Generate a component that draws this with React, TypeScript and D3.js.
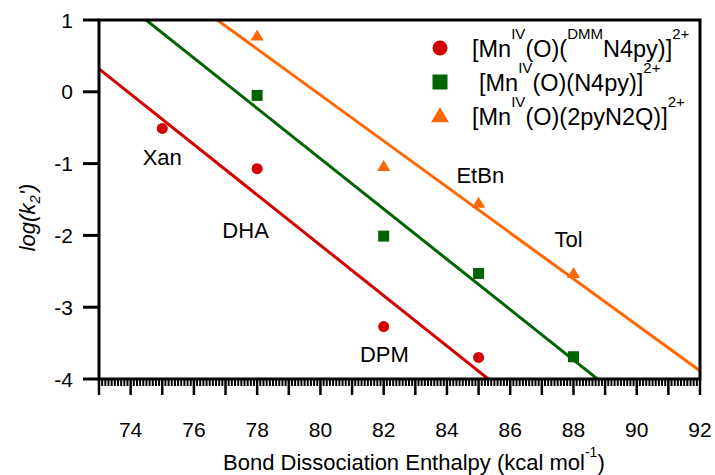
import React from "react";
import * as d3 from "d3";

const W = 715;
const H = 475;

// Series data (BDE in kcal/mol, log k2')
const dmmX = [75, 78, 82, 85];
const dmmY = [-0.51, -1.07, -3.27, -3.7];
const n4pyX = [78, 82, 85, 88];
const n4pyY = [-0.05, -2.01, -2.53, -3.69];
const pyqX = [78, 82, 85, 88];
const pyqY = [0.78, -1.04, -1.55, -2.53];

const xTickLabels = [74, 76, 78, 80, 82, 84, 86, 88, 90, 92];
const yTickLabels = [1, 0, -1, -2, -3, -4];

// Substrate annotations (name, BDE-position, log k-position)
const labelNames = ["Xan", "DHA", "DPM", "EtBn", "Tol"];
const labelX = [74.38, 76.9, 81.25, 84.3, 87.4];
const labelY = [-1.02, -2.04, -3.76, -1.27, -2.16];

const RED = "#d40000";
const GREEN = "#006400";
const ORANGE = "#ff6600";
const FONT = "'Liberation Sans', Arial, sans-serif";

const margin = { left: 99, right: 15, top: 20, bottom: 96 };

function fit(xs: number[], ys: number[]) {
  const mx = d3.mean(xs)!;
  const my = d3.mean(ys)!;
  let sxy = 0;
  let sxx = 0;
  xs.forEach((x, i) => {
    sxy += (x - mx) * (ys[i] - my);
    sxx += (x - mx) * (x - mx);
  });
  const slope = sxy / sxx;
  return (x: number) => my + slope * (x - mx);
}

export default function App() {
  const x = d3.scaleLinear().domain([73, 92]).range([margin.left, W - margin.right]);
  const y = d3.scaleLinear().domain([-4, 1]).range([H - margin.bottom, margin.top]);
  const [x0, x1] = x.range();
  const [yb, yt] = y.range();

  const series = [
    { xs: dmmX, ys: dmmY, color: RED, shape: "circle" },
    { xs: n4pyX, ys: n4pyY, color: GREEN, shape: "square" },
    { xs: pyqX, ys: pyqY, color: ORANGE, shape: "triangle" },
  ];

  const line = d3
    .line<number[]>()
    .x((d) => x(d[0]))
    .y((d) => y(d[1]));

  const marker = (shape: string, cx: number, cy: number, color: string, s: number, key?: any) => {
    if (shape === "circle") return <circle key={key} cx={cx} cy={cy} r={s / 2} fill={color} />;
    if (shape === "square")
      return <rect key={key} x={cx - s / 2} y={cy - s / 2} width={s} height={s} fill={color} />;
    const w = s * 1.2;
    const h = s;
    return (
      <path
        key={key}
        d={`M${cx},${cy - h * 0.58}L${cx + w / 2},${cy + h * 0.42}L${cx - w / 2},${cy + h * 0.42}Z`}
        fill={color}
      />
    );
  };

  const minorTicks = d3.range(731, 920).map((v) => v / 10).filter((v) => Math.abs(v - Math.round(v)) > 1e-6);
  const intTicks = d3.range(73, 93);

  const legendRows = [
    { shape: "circle", color: RED },
    { shape: "square", color: GREEN },
    { shape: "triangle", color: ORANGE },
  ];
  const sup = 15;
  const main = 23.5;
  const up = -18;

  return (
    <svg
      width={W}
      height={H}
      style={{ position: "absolute", left: 0, top: 0, background: "#fff" }}
      fontFamily={FONT}
    >
      <defs>
        <clipPath id="plot">
          <rect x={x0} y={yt} width={x1 - x0} height={yb - yt} />
        </clipPath>
      </defs>
      <rect width={W} height={H} fill="#fff" />

      {/* fit lines */}
      <g clipPath="url(#plot)">
        {series.map((s, i) => {
          const f = fit(s.xs, s.ys);
          const pts = [72, 93].map((v) => [v, f(v)]);
          return <path key={i} d={line(pts)!} stroke={s.color} strokeWidth={3} fill="none" />;
        })}
      </g>

      {/* points */}
      {series.map((s, i) =>
        s.xs.map((xv, j) => marker(s.shape, x(xv), y(s.ys[j]), s.color, 11, `${i}-${j}`))
      )}

      {/* frame */}
      <rect x={x0} y={yt} width={x1 - x0} height={yb - yt} fill="none" stroke="#000" strokeWidth={3} />

      {/* x ticks */}
      {minorTicks.map((v) => (
        <line key={"m" + v} x1={x(v)} x2={x(v)} y1={yb} y2={yb + 7} stroke="#000" strokeWidth={2} />
      ))}
      {intTicks.map((v) => (
        <line key={"i" + v} x1={x(v)} x2={x(v)} y1={yb} y2={yb + 16} stroke="#000" strokeWidth={2.5} />
      ))}
      {xTickLabels.map((v) => (
        <text key={"xl" + v} x={x(v)} y={437} fontSize={21} textAnchor="middle" fill="#000">
          {v}
        </text>
      ))}

      {/* y ticks */}
      {yTickLabels.map((v) => (
        <g key={"y" + v}>
          <line x1={x0 - 16} x2={x0} y1={y(v)} y2={y(v)} stroke="#000" strokeWidth={3} />
          <text x={x0 - 26} y={y(v)} dy="0.36em" fontSize={21} textAnchor="end" fill="#000">
            {v}
          </text>
        </g>
      ))}

      {/* axis titles */}
      <text x={223} y={470} fontSize={22} fill="#000">
        Bond Dissociation Enthalpy (kcal mol
        <tspan fontSize={14} dy={-13}>-1</tspan>
        <tspan dy={13}>)</tspan>
      </text>
      <text transform={`translate(35,${(yt + yb) / 2 + 18}) rotate(-90)`} fontSize={22} fontStyle="italic" textAnchor="middle" fill="#000">
        log(k<tspan fontSize={15} dy={5}>2</tspan>
        <tspan dy={-5}>')</tspan>
      </text>

      {/* annotations */}
      {labelNames.map((n, i) => (
        <text key={n} x={x(labelX[i])} y={y(labelY[i])} fontSize={22} fill="#000">
          {n}
        </text>
      ))}

      {/* legend */}
      {legendRows.map((r, i) => marker(r.shape, 440, 48 + i * 34, r.color, 15, "lg" + i))}
      <text x={472} y={57} fontSize={main} fill="#000">
        [Mn<tspan fontSize={sup} dy={up}>IV</tspan>
        <tspan dy={-up}>(O)(</tspan>
        <tspan fontSize={sup} dy={up}>DMM</tspan>
        <tspan dy={-up}>N4py)]</tspan>
        <tspan fontSize={sup} dy={up}>2+</tspan>
      </text>
      <text x={479} y={91} fontSize={main} fill="#000">
        [Mn<tspan fontSize={sup} dy={up}>IV</tspan>
        <tspan dy={-up}>(O)(N4py)]</tspan>
        <tspan fontSize={sup} dy={up}>2+</tspan>
      </text>
      <text x={472} y={125} fontSize={main} fill="#000">
        [Mn<tspan fontSize={sup} dy={up}>IV</tspan>
        <tspan dy={-up}>(O)(2pyN2Q)]</tspan>
        <tspan fontSize={sup} dy={up}>2+</tspan>
      </text>
    </svg>
  );
}
